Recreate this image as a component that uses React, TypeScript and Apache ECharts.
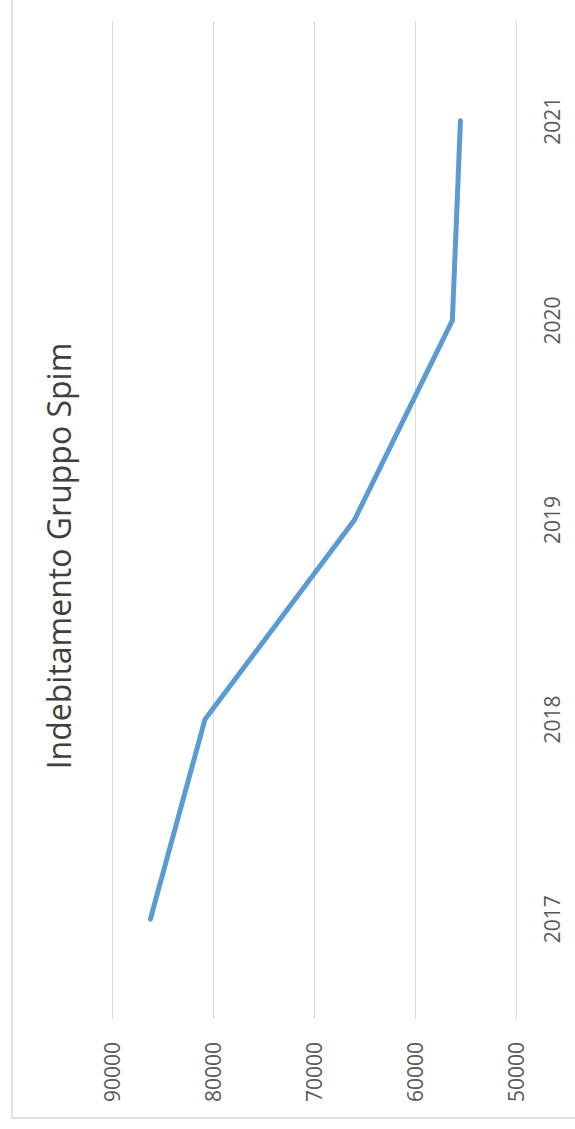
import React, { useEffect, useRef } from "react";
import * as echarts from "echarts";

const years = ["2017", "2018", "2019", "2020", "2021"];
const debt = [86200, 80800, 66000, 56300, 55500];
const title = "Indebitamento Gruppo Spim";

export default function App() {
  const ref = useRef<HTMLDivElement>(null);
  useEffect(() => {
    if (!ref.current) return;
    const chart = echarts.init(ref.current, null, { renderer: "svg" });
    chart.setOption({
      animation: false,
      backgroundColor: "#ffffff",
      textStyle: { fontFamily: "Open Sans" },
      graphic: [
        {
          type: "rect",
          shape: { x: 12, y: -10, width: 600, height: 1128 },
          style: { fill: "none", stroke: "#d9d9d9", lineWidth: 1.5 },
          silent: true,
        },
        {
          type: "text",
          x: 58,
          y: 556,
          rotation: Math.PI / 2,
          style: {
            text: title,
            fontFamily: "Open Sans",
            fontSize: 32,
            fill: "#404040",
            align: "center",
            verticalAlign: "middle",
          },
        },
      ],
      grid: { left: 112, right: 59, top: 21, bottom: 110, containLabel: false },
      xAxis: {
        type: "value",
        inverse: true,
        min: 50000,
        max: 90000,
        interval: 10000,
        position: "bottom",
        axisLine: { show: false },
        axisTick: { show: false },
        splitLine: { show: true, lineStyle: { color: "#d9d9d9", width: 1 } },
        axisLabel: {
          rotate: 90,
          margin: 23,
          fontSize: 21,
          color: "#595959",
          fontFamily: "Open Sans",
          formatter: (v: number) => String(v),
        },
      },
      yAxis: {
        type: "category",
        data: years,
        position: "right",
        boundaryGap: true,
        axisLine: { show: true, lineStyle: { color: "#d9d9d9", width: 1 } },
        axisTick: { show: false },
        splitLine: { show: false },
        axisLabel: {
          rotate: 90,
          margin: 25,
          fontSize: 21,
          color: "#595959",
          fontFamily: "Open Sans",
        },
      },
      series: [
        {
          type: "line",
          data: debt,
          symbol: "none",
          lineStyle: { color: "#5B9BD5", width: 5, cap: "round", join: "round" },
        },
      ],
    });
    return () => chart.dispose();
  }, []);
  return (
    <div
      ref={ref}
      style={{ position: "fixed", left: 0, top: 0, width: 575, height: 1129 }}
    />
  );
}
